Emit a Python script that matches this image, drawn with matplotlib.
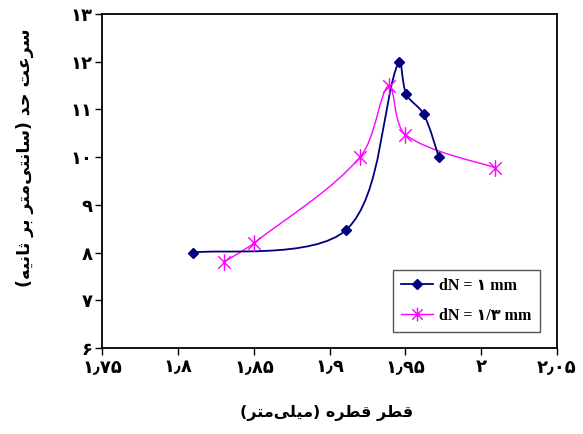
import matplotlib
matplotlib.use('Agg')
import matplotlib.pyplot as plt
from matplotlib.path import Path
from matplotlib.patches import PathPatch
from matplotlib.lines import Line2D

# data
d1_x = [1.81, 1.911, 1.9455, 1.9505, 1.962, 1.972]
d1_y = [8.0, 8.48, 12.0, 11.32, 10.9, 10.0]
d2_x = [1.83, 1.85, 1.92, 1.939, 1.95, 2.009]
d2_y = [7.8, 8.2, 10.0, 11.5, 10.47, 9.78]

x_ticks = [1.75, 1.8, 1.85, 1.9, 1.95, 2.0, 2.05]
y_ticks = [6, 7, 8, 9, 10, 11, 12, 13]

label_d1 = 'dN = ۱ mm'
label_d2 = 'dN = ۱/۳ mm'
x_title = 'قطر قطره (میلی‌متر)'
y_title = 'سرعت حد (سانتی‌متر بر ثانیه)'

# arabic letter forms: isolated, final, initial, medial
FORMS = {
    'ا': ('\uFE8D', '\uFE8E', None, None),
    'ب': ('\uFE8F', '\uFE90', '\uFE91', '\uFE92'),
    'ت': ('\uFE95', '\uFE96', '\uFE97', '\uFE98'),
    'ث': ('\uFE99', '\uFE9A', '\uFE9B', '\uFE9C'),
    'ح': ('\uFEA1', '\uFEA2', '\uFEA3', '\uFEA4'),
    'د': ('\uFEA9', '\uFEAA', None, None),
    'ر': ('\uFEAD', '\uFEAE', None, None),
    'س': ('\uFEB1', '\uFEB2', '\uFEB3', '\uFEB4'),
    'ط': ('\uFEC1', '\uFEC2', '\uFEC3', '\uFEC4'),
    'ع': ('\uFEC9', '\uFECA', '\uFECB', '\uFECC'),
    'ق': ('\uFED5', '\uFED6', '\uFED7', '\uFED8'),
    'ل': ('\uFEDD', '\uFEDE', '\uFEDF', '\uFEE0'),
    'م': ('\uFEE1', '\uFEE2', '\uFEE3', '\uFEE4'),
    'ن': ('\uFEE5', '\uFEE6', '\uFEE7', '\uFEE8'),
    'ه': ('\uFEE9', '\uFEEA', '\uFEEB', '\uFEEC'),
    'ی': ('\uFEEF', '\uFEF0', '\uFEF3', '\uFEF4'),
}


def shape(text):
    out = []
    for i, ch in enumerate(text):
        if ch not in FORMS:
            if ch != '\u200c':
                out.append(ch)
            continue
        iso, fin, ini, med = FORMS[ch]
        prev = text[i - 1] if i > 0 else ''
        nxt = text[i + 1] if i + 1 < len(text) else ''
        pj = prev in FORMS and FORMS[prev][2] is not None
        nj = nxt in FORMS and ini is not None
        if pj and nj:
            out.append(med)
        elif pj:
            out.append(fin)
        elif nj:
            out.append(ini)
        else:
            out.append(iso)
    swap = {'(': ')', ')': '('}
    return ''.join(swap.get(c, c) for c in reversed(out))


def fa_num(v):
    s = f'{v:g}'
    return s.translate(str.maketrans('0123456789.', '۰۱۲۳۴۵۶۷۸۹٫'))


# smoothed line like excel, control points worked out in pixel space
def smooth_path(ax, xs, ys):
    P = ax.transData.transform(list(zip(xs, ys)))
    n = len(P)
    seg = [((P[i + 1] - P[i]) ** 2).sum() ** 0.5 for i in range(n - 1)]
    out_arm, in_arm = [], []
    for i in range(n):
        if i == 0:
            d = (P[1] - P[0]) / 6
            out_arm.append(d); in_arm.append(d)
        elif i == n - 1:
            d = (P[-1] - P[-2]) / 6
            out_arm.append(d); in_arm.append(d)
        else:
            D = P[i + 1] - P[i - 1]
            lp, ln = seg[i - 1], seg[i]
            out_arm.append(D * ln / (lp + ln) / 3)
            in_arm.append(D * lp / (lp + ln) / 3)
    verts = [P[0]]
    codes = [Path.MOVETO]
    for i in range(n - 1):
        verts += [P[i] + out_arm[i], P[i + 1] - in_arm[i + 1], P[i + 1]]
        codes += [Path.CURVE4] * 3
    verts = ax.transData.inverted().transform(verts)
    return Path(verts, codes)


star = Path([(0, -1), (0, 1), (-0.75, -0.75), (0.75, 0.75), (-0.75, 0.75), (0.75, -0.75)],
            [Path.MOVETO, Path.LINETO] * 3)

navy = '#000080'
mag = '#FF00FF'

fig = plt.figure(figsize=(5.83, 4.34), dpi=100)
ax = fig.add_axes([0.1758, 0.1982, 0.7796, 0.7696])
ax.set_xlim(1.75, 2.05)
ax.set_ylim(6, 13)

ax.add_patch(PathPatch(smooth_path(ax, d2_x, d2_y), fill=False, edgecolor=mag, lw=1.0))
ax.add_patch(PathPatch(smooth_path(ax, d1_x, d1_y), fill=False, edgecolor=navy, lw=1.3))
ax.plot(d2_x, d2_y, ls='none', marker=star, ms=12, mec=mag, mew=1.0)
ax.plot(d1_x, d1_y, ls='none', marker='D', ms=5.5, mfc=navy, mec=navy)

ax.set_xticks(x_ticks)
ax.set_yticks(y_ticks)
ax.set_xticklabels([fa_num(v) for v in x_ticks], fontsize=13, fontweight='bold')
ax.set_yticklabels([fa_num(v) for v in y_ticks], fontsize=13, fontweight='bold')
ax.tick_params(direction='out', length=5, width=1, pad=2)
for s in ax.spines.values():
    s.set_linewidth(1.3)

fig.text(25 / 583, 1 - 158 / 434, shape(y_title), rotation=90, ha='center', va='center',
         fontsize=12.5, fontweight='bold')
fig.text(327 / 583, 1 - 413 / 434, shape(x_title), ha='center', va='center',
         fontsize=11.5, fontweight='bold')

handles = [
    Line2D([], [], color=navy, lw=1.3, marker='D', ms=5.5),
    Line2D([], [], color=mag, lw=1.0, marker=star, ms=10),
]
leg = ax.legend(handles, [label_d1, label_d2], loc='upper left',
                bbox_to_anchor=(393 / 583, 1 - 270 / 434), bbox_transform=fig.transFigure,
                borderaxespad=0, fancybox=False, framealpha=1, handlelength=2.0,
                handletextpad=0.4, labelspacing=0.85, borderpad=0.5,
                prop={'family': ['Liberation Serif', 'DejaVu Sans'], 'weight': 'bold', 'size': 11.5})
leg.get_frame().set_edgecolor('#555555')
leg.get_frame().set_linewidth(1.0)

fig.savefig('out.png', dpi=100)
